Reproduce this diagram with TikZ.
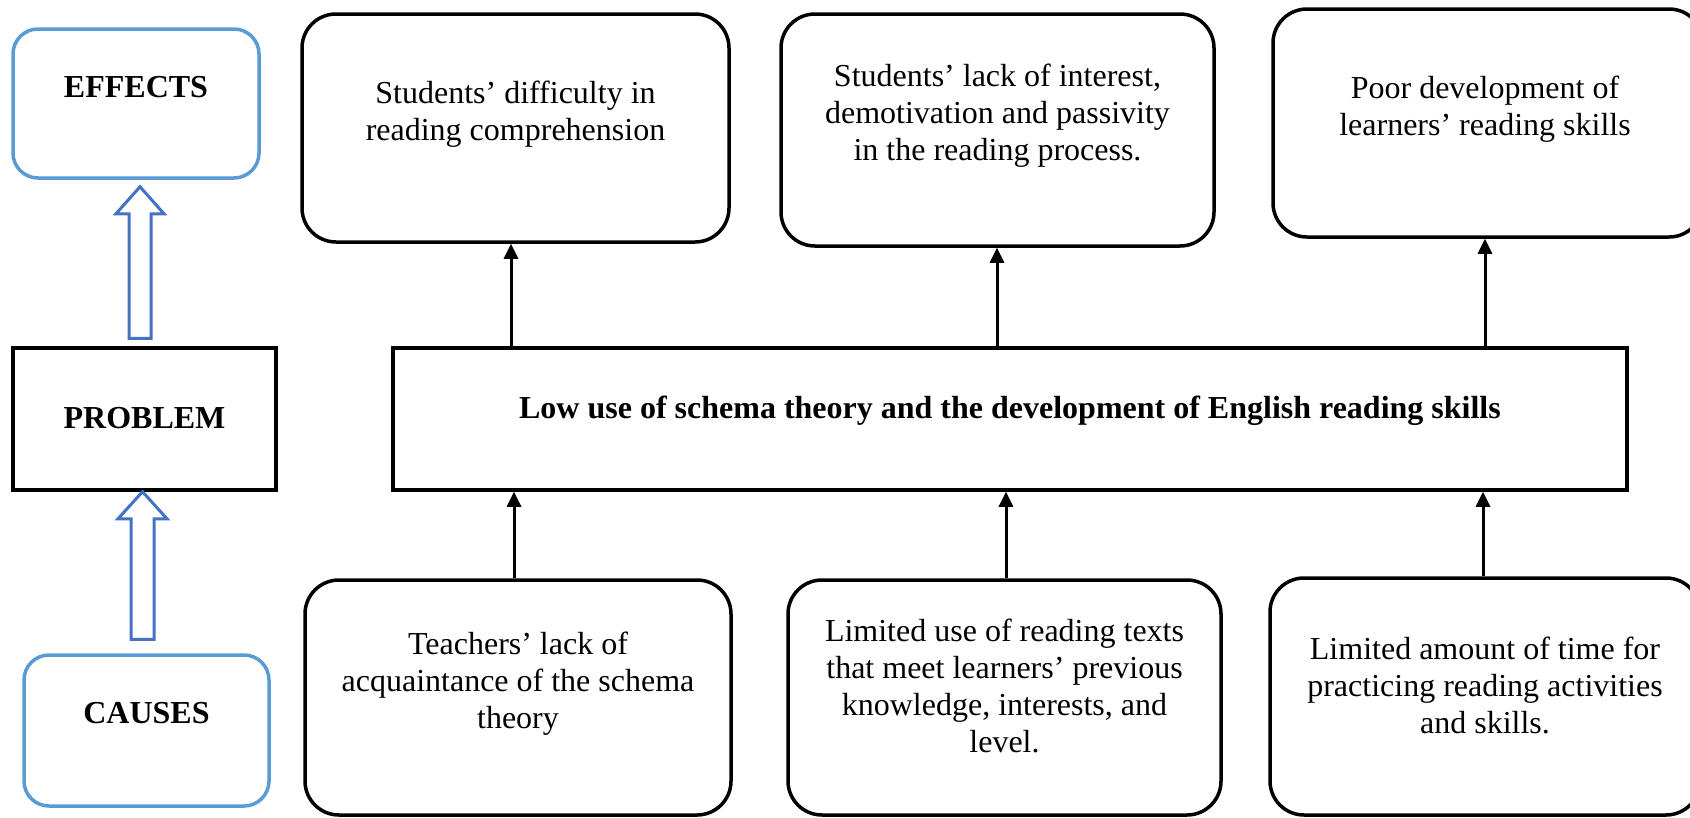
\documentclass[tikz,border=0pt]{standalone}
\usepackage{fontspec}
\setmainfont{Liberation Serif}
\usetikzlibrary{arrows.meta,calc}
\definecolor{sideblue}{HTML}{5B9BD5}
\definecolor{flowblue}{HTML}{4472C4}

\begin{document}
\begin{tikzpicture}[x=1pt,y=-1pt,
  txt/.style={font=\fontsize{32}{37}\selectfont, align=center, inner sep=0pt},
  btxt/.style={font=\fontsize{32}{37}\selectfont\bfseries, align=center, inner sep=0pt},
  rbox/.style={draw=black, line width=3.5pt, rounded corners=34pt, inner sep=0pt},
  sbox/.style={draw=black, line width=3.5pt, inner sep=0pt},
  bbox/.style={draw=sideblue, line width=3.5pt, rounded corners=25pt, inner sep=0pt},
  conn/.style={line width=3pt, -{Triangle[width=14pt,length=15pt]}},
  hollow/.style={draw=flowblue, line width=3pt, fill=white, line join=miter}]

% page
\fill[white] (0,0) rectangle (1690,817);
\useasboundingbox (0,0) rectangle (1690,817);
\clip (0,0) rectangle (1690,817);

% left column: effects / problem / causes
\node[bbox, minimum width=246pt, minimum height=149pt] (effects) at (136,103.5) {};
\node[btxt] (effectsT) at (136,87) {EFFECTS};
\node[sbox, minimum width=263pt, minimum height=142pt] (problem) at (144.5,419) {};
\node[btxt] (problemT) at (144.5,418) {PROBLEM};
\node[bbox, minimum width=245pt, minimum height=151pt] (causes) at (146.5,730.5) {};
\node[btxt] (causesT) at (146.5,713) {CAUSES};

% hollow arrows
\draw[hollow] let \p1=([yshift=8pt]problem.north), \p2=([yshift=-7pt]effects.south) in
  (129pt,\y1) -- (129pt,\y2-27pt) -- (116pt,\y2-27pt) -- (140pt,\y2)
  -- (164pt,\y2-27pt) -- (151pt,\y2-27pt) -- (151pt,\y1) -- cycle;
\draw[hollow] let \p1=([yshift=14pt]causes.north), \p2=(problem.south) in
  (131pt,\y1) -- (131pt,\y2-27pt) -- (118pt,\y2-27pt) -- (142.5pt,\y2)
  -- (167pt,\y2-27pt) -- (154pt,\y2-27pt) -- (154pt,\y1) -- cycle;

% central problem
\node[sbox, minimum width=1234pt, minimum height=142pt] (main) at (1010,419) {};
\node[btxt] (mainT) at (1010,410.5) {Low use of schema theory and the development of English reading skills};

% effects row
\node[rbox, minimum width=427pt, minimum height=228pt] (e1) at (515.5,128) {};
\node[txt] (e1T) at (515.5,114.5) {Students’ difficulty in\\reading comprehension};
\node[rbox, minimum width=433pt, minimum height=232pt] (e2) at (997.5,130) {};
\node[txt] (e2T) at (997.5,115.5) {Students’ lack of interest,\\demotivation and passivity\\in the reading process.};
\node[rbox, minimum width=430pt, minimum height=228pt] (e3) at (1488,123) {};
\node[txt] (e3T) at (1485,109.5) {Poor development of\\learners’ reading skills};

% causes row
\node[rbox, minimum width=426pt, minimum height=235pt] (c1) at (518,697.5) {};
\node[txt] (c1T) at (518,683.5) {Teachers’ lack of\\acquaintance of the schema\\theory};
\node[rbox, minimum width=433pt, minimum height=235pt] (c2) at (1004.5,697.5) {};
\node[txt] (c2T) at (1004.5,685.5) {Limited use of reading texts\\that meet learners’ previous\\knowledge, interests, and\\level.};
\node[rbox, minimum width=430pt, minimum height=237pt] (c3) at (1485,696.5) {};
\node[txt] (c3T) at (1485,685.5) {Limited amount of time for\\practicing reading activities\\and skills.};

% problem -> effects
\draw[conn] ([xshift=-4.5pt]e1.south |- main.north) -- ([xshift=-4.5pt]e1.south);
\draw[conn] ([xshift=-0.5pt]e2.south |- main.north) -- ([xshift=-0.5pt]e2.south);
\draw[conn] ([xshift=-3pt]e3.south |- main.north) -- ([xshift=-3pt]e3.south);

% causes -> problem
\draw[conn] ([xshift=-4pt]c1.north) -- ([xshift=-4pt]c1.north |- main.south);
\draw[conn] ([xshift=1.5pt]c2.north) -- ([xshift=1.5pt]c2.north |- main.south);
\draw[conn] ([xshift=-2pt]c3.north) -- ([xshift=-2pt]c3.north |- main.south);
\end{tikzpicture}
\end{document}
